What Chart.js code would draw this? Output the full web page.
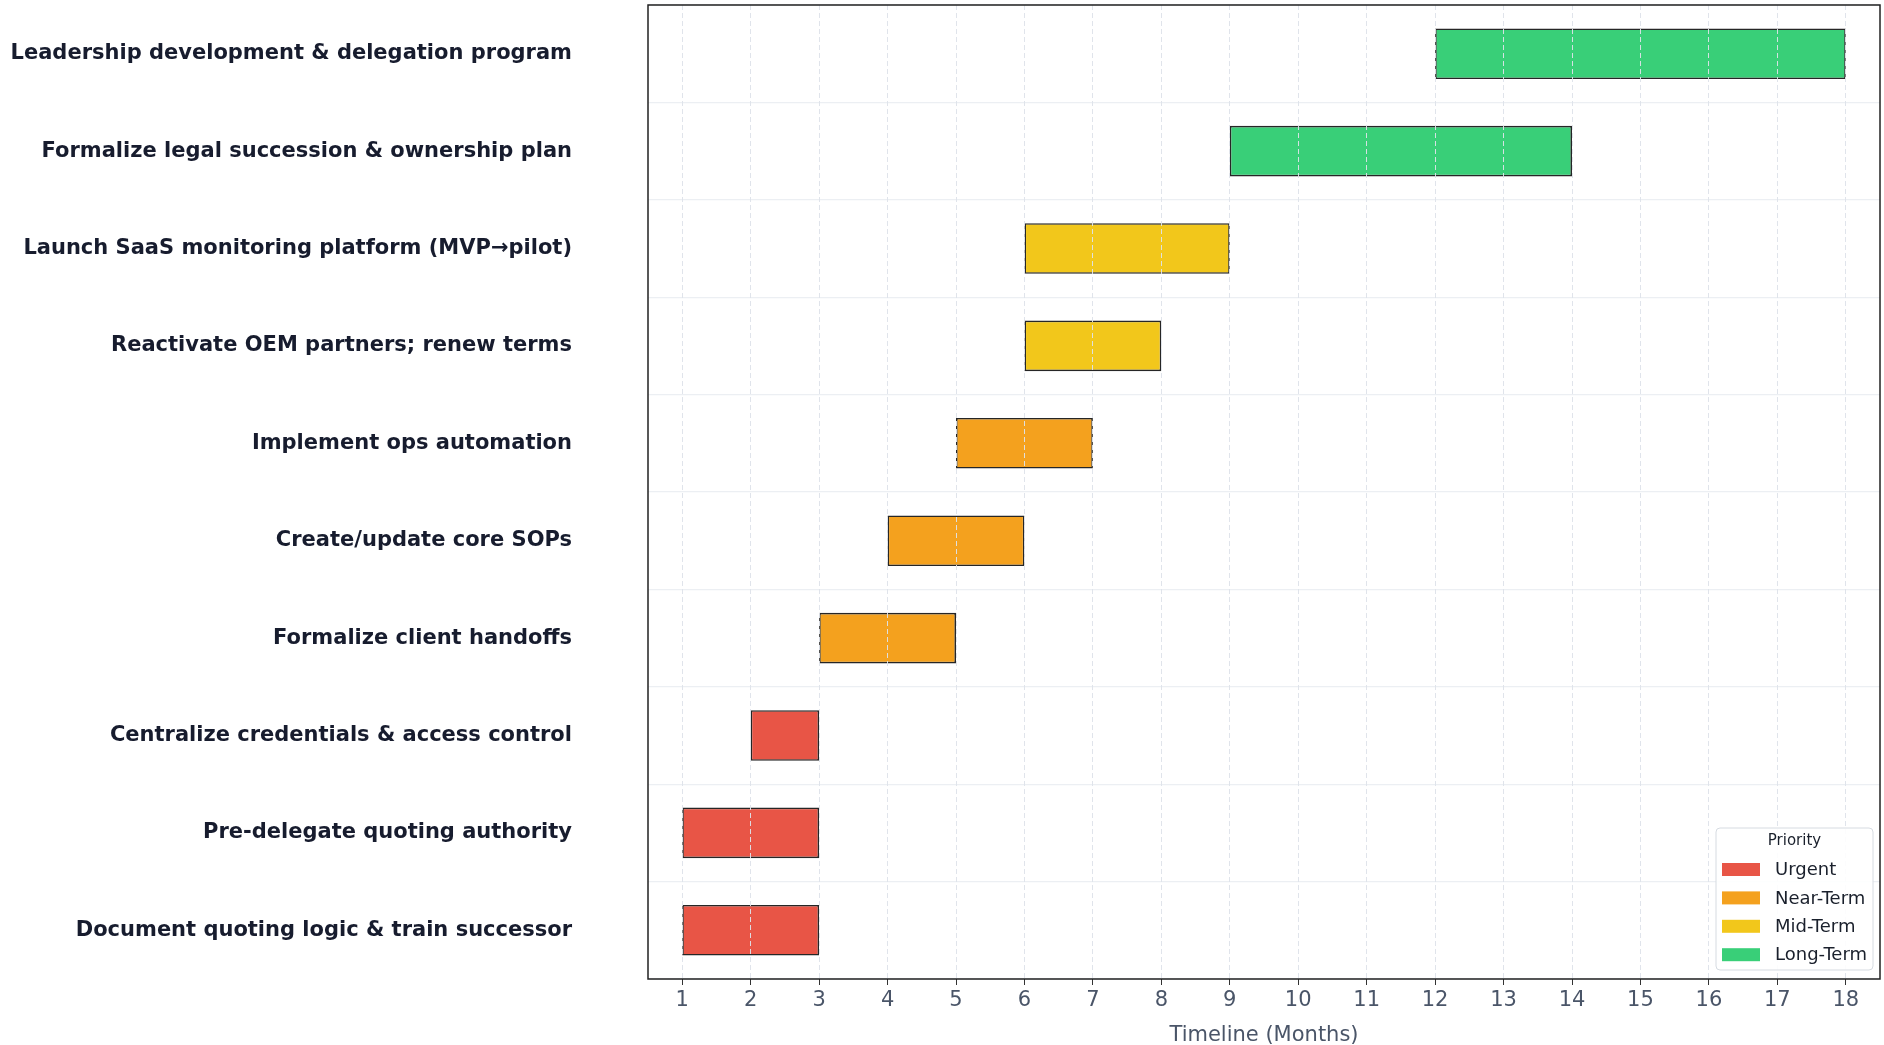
<!DOCTYPE html>
<html>
<head>
<meta charset="utf-8">
<title>Succession roadmap</title>
<script src="https://cdn.jsdelivr.net/npm/chart.js@4.4.1/dist/chart.umd.min.js"></script>
<style>
    html, body { margin: 0; padding: 0; background: #ffffff; }
    #wrap { width: 1884px; height: 1045px; }
</style>
</head>
<body>
<div id="wrap"><canvas id="gantt" width="1884" height="1045"></canvas></div>
<script>
// tasks listed top to bottom, as in the picture
const tasks = [
    'Leadership development & delegation program',
    'Formalize legal succession & ownership plan',
    'Launch SaaS monitoring platform (MVP\u2192pilot)',
    'Reactivate OEM partners; renew terms',
    'Implement ops automation',
    'Create/update core SOPs',
    'Formalize client handoffs',
    'Centralize credentials & access control',
    'Pre-delegate quoting authority',
    'Document quoting logic & train successor'
];
const startMonth = [12, 9, 6, 6, 5, 4, 3, 2, 1, 1];
const endMonth   = [18, 14, 9, 8, 7, 6, 5, 3, 3, 3];
const taskPriority = [
    'Long-Term', 'Long-Term', 'Mid-Term', 'Mid-Term', 'Near-Term',
    'Near-Term', 'Near-Term', 'Urgent', 'Urgent', 'Urgent'
];
const priorities = ['Urgent', 'Near-Term', 'Mid-Term', 'Long-Term'];
const monthTicks = [1, 2, 3, 4, 5, 6, 7, 8, 9, 10, 11, 12, 13, 14, 15, 16, 17, 18];

const priorityColors = {
    'Urgent': 'rgba(231, 76, 60, 0.95)',
    'Near-Term': 'rgba(243, 156, 18, 0.95)',
    'Mid-Term': 'rgba(241, 196, 15, 0.95)',
    'Long-Term': 'rgba(46, 204, 113, 0.95)'
};

const FONT = "'DejaVu Sans', 'Liberation Sans', sans-serif";
const PLOT_LEFT = 648;
const PLOT_BOTTOM = 979;

// frame round the plot + priority legend in the lower right corner
const framePlugin = {
    id: 'frameAndLegend',
    afterDraw(chart) {
        const ctx = chart.ctx;
        const a = chart.chartArea;
        ctx.save();
        ctx.strokeStyle = '#222222';
        ctx.lineWidth = 1.5;
        ctx.strokeRect(a.left, a.top, a.right - a.left, a.bottom - a.top);

        const w = 157, h = 142;
        const x = a.right - 7 - w;
        const y = a.bottom - 9 - h;
        ctx.beginPath();
        ctx.roundRect(x, y, w, h, 4);
        ctx.fillStyle = 'rgba(255,255,255,0.9)';
        ctx.fill();
        ctx.strokeStyle = '#d6dbe1';
        ctx.lineWidth = 1;
        ctx.stroke();

        ctx.textBaseline = 'middle';
        ctx.textAlign = 'center';
        ctx.fillStyle = '#1a202c';
        ctx.font = '15px ' + FONT;
        ctx.fillText('Priority', x + w / 2, y + 13.5);

        ctx.textAlign = 'left';
        ctx.font = '18px ' + FONT;
        priorities.forEach((p, i) => {
            const cy = y + 41.5 + i * 28.4;
            ctx.fillStyle = priorityColors[p];
            ctx.fillRect(x + 6, cy - 6.5, 38, 13);
            ctx.fillStyle = '#1a202c';
            ctx.fillText(p, x + 59, cy + 1);
        });
        ctx.restore();
    }
};

new Chart(document.getElementById('gantt'), {
    type: 'bar',
    data: {
        labels: tasks,
        datasets: [{
            label: 'Tasks',
            data: tasks.map((t, i) => [startMonth[i], endMonth[i]]),
            backgroundColor: taskPriority.map(p => priorityColors[p]),
            borderColor: '#262626',
            borderWidth: 1.6,
            borderSkipped: false,
            barPercentage: 0.52,
            categoryPercentage: 1.0
        }]
    },
    options: {
        indexAxis: 'y',
        responsive: false,
        devicePixelRatio: 1,
        animation: false,
        layout: { padding: { top: 5, right: 4, bottom: 0, left: 0 } },
        plugins: {
            legend: { display: false },
            tooltip: { enabled: false }
        },
        scales: {
            x: {
                type: 'linear',
                position: 'bottom',
                min: 0.5,
                max: 18.5,
                afterBuildTicks: (scale) => {
                    scale.ticks = monthTicks.map(v => ({ value: v }));
                },
                afterFit: (scale) => { scale.height = 1045 - PLOT_BOTTOM; },
                grid: {
                    z: 1,   // dashed month lines sit on top of the bars
                    color: 'rgba(222, 227, 234, 0.95)',
                    lineWidth: 1,
                    drawTicks: true,
                    tickLength: 6,
                    tickColor: '#333333',
                    tickWidth: 1
                },
                border: { display: false, dash: [5, 3] },
                ticks: {
                    color: '#4a5568',
                    font: { family: FONT, size: 21 },
                    padding: 3,
                    maxRotation: 0,
                    autoSkip: false
                },
                title: {
                    display: true,
                    text: 'Timeline (Months)',
                    color: '#4a5568',
                    font: { family: FONT, size: 21 },
                    padding: { top: 0, bottom: -3 }
                }
            },
            y: {
                type: 'category',
                position: 'left',
                afterFit: (scale) => {
                    scale.width = PLOT_LEFT;
                    scale.paddingTop = 0;
                    scale.paddingBottom = 0;
                },
                grid: {
                    color: '#eceff3',
                    lineWidth: 1.2,
                    drawTicks: true,
                    tickLength: 76,
                    tickColor: 'rgba(0,0,0,0)'
                },
                border: { display: false },
                ticks: {
                    color: '#171c2e',
                    font: { family: FONT, size: 21, weight: 'bold' },
                    padding: 0,
                    autoSkip: false
                }
            }
        }
    },
    plugins: [framePlugin]
});
</script>
</body>
</html>
